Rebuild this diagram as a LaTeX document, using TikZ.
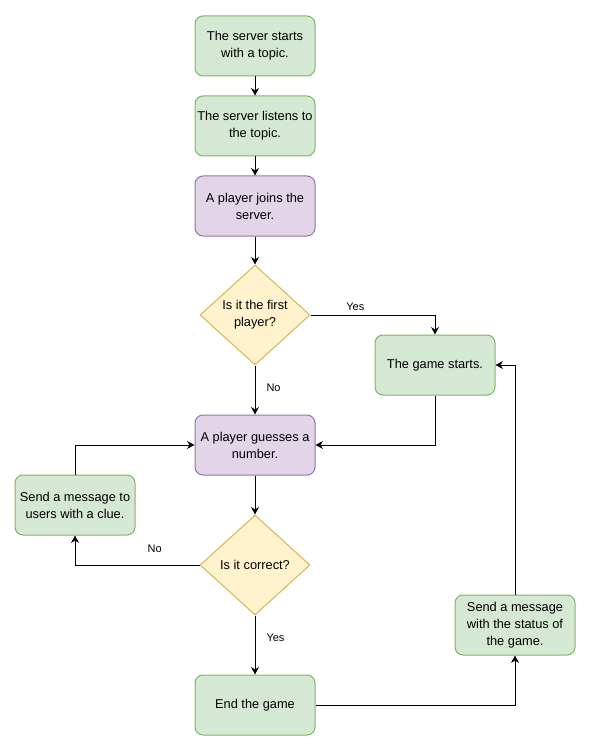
\documentclass[tikz,border=0pt]{standalone}
\usepackage{fontspec}
\setmainfont{Liberation Sans}
\usetikzlibrary{shapes.geometric,arrows.meta}
\definecolor{green_fill}{HTML}{D5E8D4}
\definecolor{green_line}{HTML}{82B366}
\definecolor{purple_fill}{HTML}{E1D5E7}
\definecolor{purple_line}{HTML}{9673A6}
\definecolor{yellow_fill}{HTML}{FFF2CC}
\definecolor{yellow_line}{HTML}{D6B656}
\begin{document}
\begin{tikzpicture}[x=1pt, y=-1pt, line width=1pt,
    >={Stealth[length=7.5pt, width=8pt, inset=2.5pt]}]
    \tikzstyle{box_style}=[rectangle, rounded corners=8pt, minimum width=120pt, minimum height=60pt, align=center, inner sep=0pt, font=\fontsize{12.8}{17}\selectfont]
    \tikzstyle{green_style}=[box_style, draw=green_line, fill=green_fill]
    \tikzstyle{purple_style}=[box_style, draw=purple_line, fill=purple_fill]
    \tikzstyle{diamond_style}=[diamond, aspect=1.1, draw=yellow_line, fill=yellow_fill, minimum width=110pt, minimum height=100pt, inner sep=0pt, align=center, font=\fontsize{12.8}{17}\selectfont]
    \tikzstyle{label_style}=[font=\fontsize{11}{13}\selectfont, inner sep=0pt]

    \useasboundingbox (0, 0) rectangle (591, 751);

    % server setup
    \node at (255, 46) [green_style] (srv_start) {The server starts\\with a topic.};
    \node at (255, 126) [green_style] (srv_listen) {The server listens to\\the topic.};
    \node at (255, 206) [purple_style] (player_join) {A player joins the\\server.};

    % first player?
    \node at (255, 315) [diamond_style] (first_check) {Is it the first\\player?};
    \node at (435, 365) [green_style] (game_start) {The game starts.};

    % guessing
    \node at (255, 445) [purple_style] (player_guess) {A player guesses a\\number.};
    \node at (255, 565) [diamond_style] (correct_check) {Is it correct?};
    \node at (75, 505) [green_style] (send_clue) {Send a message to\\users with a clue.};

    % end
    \node at (255, 705) [green_style] (game_end) {End the game};
    \node at (515, 625) [green_style] (send_status) {Send a message\\with the status of\\the game.};

    % connect: straight down
    \foreach \a/\b in {srv_start/srv_listen, srv_listen/player_join, player_join/first_check, player_guess/correct_check}
      \path[->] (\a) edge (\b);

    % connect: first player
    \draw[->] (first_check.east) -| node[label_style, pos=0.18, above=4pt] {Yes} (game_start.north);
    \draw[->] (first_check.south) -- node[label_style, pos=0.46, right=11pt] {No} (player_guess.north);
    \draw[->] (game_start.south) |- (player_guess.east);

    % connect: correct?
    \draw[->] (correct_check.west) -| node[label_style, pos=0.18, above=12pt] {No} (send_clue.south);
    \draw[->] (send_clue.north) |- (player_guess.west);
    \draw[->] (correct_check.south) -- node[label_style, pos=0.38, right=11pt] {Yes} (game_end.north);

    % connect: end -> status -> start
    \draw[->] (game_end.east) -| (send_status.south);
    \draw[->] (send_status.north) |- (game_start.east);
\end{tikzpicture}
\end{document}
